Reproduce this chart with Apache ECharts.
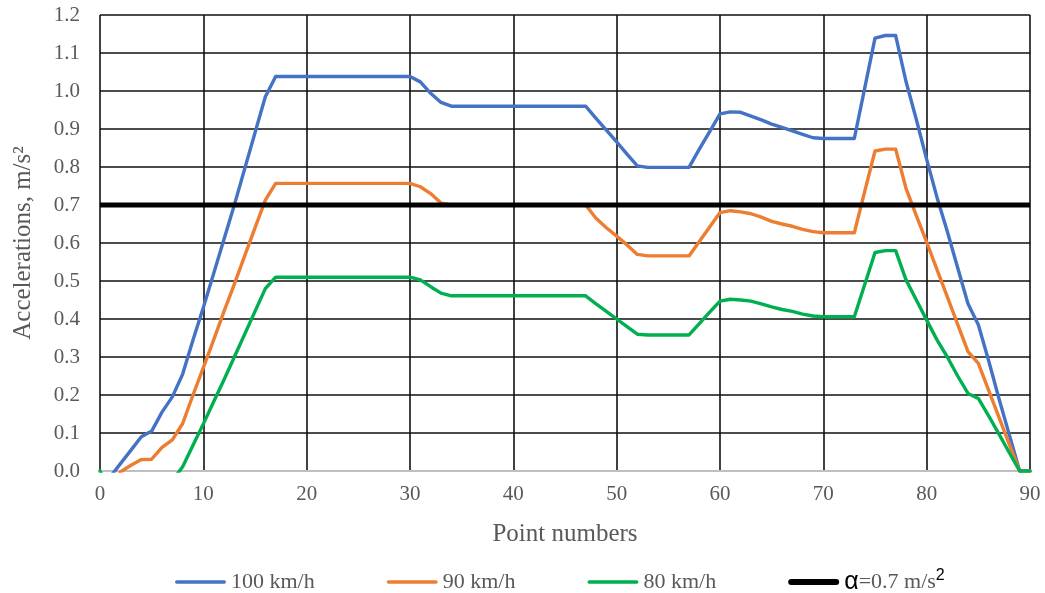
<!DOCTYPE html>
<html>
<head>
<meta charset="utf-8">
<script src="https://cdn.jsdelivr.net/npm/echarts@6/dist/echarts.min.js"></script>
<style>
html,body{margin:0;padding:0;background:#fff;}
#chart{width:1045px;height:593px;}
</style>
</head>
<body>
<div id="chart"></div>
<script>
// Point numbers 0..90
var pointNumbers = Array.from({length: 91}, function (_, i) { return i; });

var seriesNames = ['100 km/h', '90 km/h', '80 km/h', 'α=0.7 m/s2'];
var seriesColors = ['#4472C4', '#ED7D31', '#00B050', '#000000'];

var accel100 = [
  -0.05, -0.015, 0.02, 0.055, 0.09, 0.105, 0.155, 0.195, 0.255, 0.345,
  0.43, 0.52, 0.61, 0.70, 0.795, 0.89, 0.985, 1.038, 1.038, 1.038,
  1.038, 1.038, 1.038, 1.038, 1.038, 1.038, 1.038, 1.038, 1.038, 1.038,
  1.038, 1.024, 0.994, 0.97, 0.96, 0.96, 0.96, 0.96, 0.96, 0.96,
  0.96, 0.96, 0.96, 0.96, 0.96, 0.96, 0.96, 0.96, 0.928, 0.897,
  0.866, 0.834, 0.803, 0.799, 0.799, 0.799, 0.799, 0.799, 0.847, 0.893,
  0.94, 0.945, 0.944, 0.934, 0.924, 0.913, 0.904, 0.895, 0.886, 0.877,
  0.875, 0.875, 0.875, 0.875, 1.007, 1.139, 1.146, 1.146, 1.025, 0.925,
  0.82, 0.72, 0.63, 0.535, 0.44, 0.385, 0.29, 0.19, 0.095, 0.0,
  0.0
];

var accel90 = [
  -0.06, -0.04, -0.002, 0.015, 0.03, 0.031, 0.062, 0.082, 0.125, 0.2,
  0.272, 0.345, 0.42, 0.492, 0.566, 0.64, 0.713, 0.757, 0.757, 0.757,
  0.757, 0.757, 0.757, 0.757, 0.757, 0.757, 0.757, 0.757, 0.757, 0.757,
  0.757, 0.748, 0.73, 0.705, 0.70, 0.70, 0.70, 0.70, 0.70, 0.70,
  0.70, 0.70, 0.70, 0.70, 0.70, 0.70, 0.70, 0.70, 0.665, 0.64,
  0.618, 0.595, 0.57, 0.566, 0.566, 0.566, 0.566, 0.566, 0.604, 0.642,
  0.68, 0.685, 0.682, 0.677, 0.668, 0.657, 0.65, 0.644, 0.636, 0.63,
  0.627, 0.627, 0.627, 0.627, 0.735, 0.842, 0.847, 0.847, 0.744, 0.672,
  0.602, 0.53, 0.458, 0.386, 0.314, 0.283, 0.212, 0.141, 0.07, 0.0,
  0.0
];

var accel80 = [
  0.0, -0.05, -0.08, -0.09, -0.09, -0.08, -0.06, -0.025, 0.011, 0.068,
  0.124, 0.182, 0.24, 0.3, 0.36, 0.42, 0.48, 0.51, 0.51, 0.51,
  0.51, 0.51, 0.51, 0.51, 0.51, 0.51, 0.51, 0.51, 0.51, 0.51,
  0.51, 0.503, 0.485, 0.468, 0.461, 0.461, 0.461, 0.461, 0.461, 0.461,
  0.461, 0.461, 0.461, 0.461, 0.461, 0.461, 0.461, 0.461, 0.44, 0.42,
  0.4, 0.38, 0.36, 0.358, 0.358, 0.358, 0.358, 0.358, 0.388, 0.418,
  0.447, 0.452, 0.45, 0.447, 0.44, 0.432, 0.425, 0.42, 0.413, 0.408,
  0.406, 0.406, 0.406, 0.406, 0.49, 0.575, 0.58, 0.58, 0.503, 0.45,
  0.397, 0.345, 0.3, 0.25, 0.204, 0.191, 0.145, 0.097, 0.048, 0.0,
  0.0
];

var thresholdX = [0, 90];
var thresholdY = [0.7, 0.7];

var xTicks = [0, 10, 20, 30, 40, 50, 60, 70, 80, 90];
var yTicks = [0.0, 0.1, 0.2, 0.3, 0.4, 0.5, 0.6, 0.7, 0.8, 0.9, 1.0, 1.1, 1.2];

function pairs(xs, ys) {
  return ys.map(function (y, i) { return [xs[i], y]; });
}

var serif = '"Liberation Serif", "DejaVu Serif", serif';
var sans = '"Liberation Sans", Arial, sans-serif';
var grey = '#595959';

// rounded bar legend icons (aspect kept; thin for the speed lines, thick for the limit)
var thinIcon = 'path://M1.8,0 L49.2,0 A1.8,1.8 0 0 1 49.2,3.6 L1.8,3.6 A1.8,1.8 0 0 1 1.8,0 Z';
var thickIcon = 'path://M3,0 L48,0 A3,3 0 0 1 48,6 L3,6 A3,3 0 0 1 3,0 Z';

var chart = echarts.init(document.getElementById('chart'), null, {renderer: 'canvas'});

chart.setOption({
  animation: false,
  backgroundColor: '#ffffff',
  grid: {left: 100, right: 15, top: 15, bottom: 122},
  legend: {
    left: 170,
    top: 563,
    itemWidth: 51,
    itemHeight: 14,
    itemGap: 72,
    symbolKeepAspect: true,
    data: seriesNames.map(function (n, i) {
      return {name: n, icon: i === 3 ? thickIcon : thinIcon, itemStyle: {color: seriesColors[i]}};
    }),
    textStyle: {
      fontFamily: serif,
      fontSize: 22,
      color: grey,
      rich: {
        a: {fontFamily: sans, fontSize: 25, color: '#000'},
        t: {fontFamily: serif, fontSize: 22, color: grey},
        s: {fontFamily: sans, fontSize: 16, color: '#000', verticalAlign: 'top', padding: [0, 0, 12, 0]}
      }
    },
    formatter: function (name) {
      if (name === seriesNames[3]) {
        return '{a|α}{t|=0.7 m/s}{s|2}';
      }
      return name;
    }
  },
  xAxis: {
    type: 'value',
    min: xTicks[0],
    max: xTicks[xTicks.length - 1],
    interval: 10,
    name: 'Point numbers',
    nameLocation: 'middle',
    nameGap: 51,
    nameTextStyle: {fontFamily: serif, fontSize: 25, color: grey},
    axisLine: {show: true, onZero: false, lineStyle: {color: '#bfbfbf', width: 2}},
    axisTick: {show: false},
    axisLabel: {fontFamily: serif, fontSize: 21, color: grey, margin: 13},
    splitLine: {show: true, lineStyle: {color: '#111', width: 1.6}}
  },
  yAxis: {
    type: 'value',
    min: yTicks[0],
    max: yTicks[yTicks.length - 1],
    interval: 0.1,
    name: 'Accelerations, m/s²',
    nameLocation: 'middle',
    nameGap: 64,
    nameTextStyle: {fontFamily: serif, fontSize: 25, color: grey},
    axisLine: {show: false},
    axisTick: {show: false},
    axisLabel: {
      fontFamily: serif, fontSize: 21, color: grey, margin: 20,
      formatter: function (v) { return v.toFixed(1); }
    },
    splitLine: {show: true, lineStyle: {color: '#111', width: 1.6}}
  },
  series: [
    {
      name: seriesNames[0], type: 'line', symbol: 'none', showSymbol: false, clip: true,
      data: pairs(pointNumbers, accel100),
      lineStyle: {color: seriesColors[0], width: 3.4, cap: 'round', join: 'round'},
      itemStyle: {color: seriesColors[0]}
    },
    {
      name: seriesNames[1], type: 'line', symbol: 'none', showSymbol: false, clip: true,
      data: pairs(pointNumbers, accel90),
      lineStyle: {color: seriesColors[1], width: 3.4, cap: 'round', join: 'round'},
      itemStyle: {color: seriesColors[1]}
    },
    {
      name: seriesNames[2], type: 'line', symbol: 'none', showSymbol: false, clip: true,
      data: pairs(pointNumbers, accel80),
      lineStyle: {color: seriesColors[2], width: 3.4, cap: 'round', join: 'round'},
      itemStyle: {color: seriesColors[2]}
    },
    {
      name: seriesNames[3], type: 'line', symbol: 'none', showSymbol: false, clip: true,
      data: pairs(thresholdX, thresholdY),
      lineStyle: {color: seriesColors[3], width: 5},
      itemStyle: {color: seriesColors[3]}
    }
  ]
});
</script>
</body>
</html>
